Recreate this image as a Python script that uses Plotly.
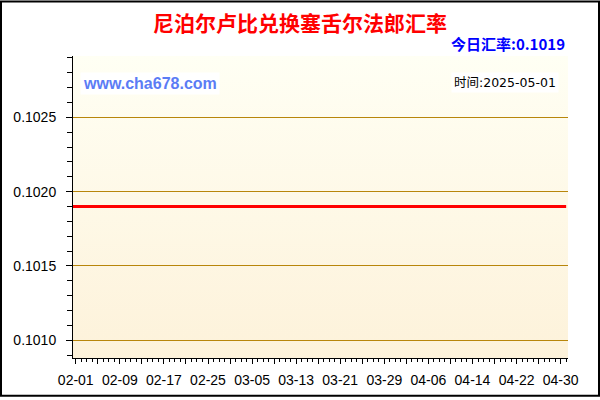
import base64
import pandas as pd
import plotly.graph_objects as go

# daily rate, NPR -> SCR
dates = pd.date_range("2025-01-31", "2025-05-01", freq="D")
rates = [
    0.1019,
    0.1019, 0.1019, 0.1019, 0.1019, 0.1019, 0.1019, 0.1019, 0.1019, 0.1019, 0.1019,
    0.1019, 0.1019, 0.1019, 0.1019, 0.1019, 0.1019, 0.1019, 0.1019, 0.1019, 0.1019,
    0.1019, 0.1019, 0.1019, 0.1019, 0.1019, 0.1019, 0.1019, 0.1019, 0.1019, 0.1019,
    0.1019, 0.1019, 0.1019, 0.1019, 0.1019, 0.1019, 0.1019, 0.1019, 0.1019, 0.1019,
    0.1019, 0.1019, 0.1019, 0.1019, 0.1019, 0.1019, 0.1019, 0.1019, 0.1019, 0.1019,
    0.1019, 0.1019, 0.1019, 0.1019, 0.1019, 0.1019, 0.1019, 0.1019, 0.1019, 0.1019,
    0.1019, 0.1019, 0.1019, 0.1019, 0.1019, 0.1019, 0.1019, 0.1019, 0.1019, 0.1019,
    0.1019, 0.1019, 0.1019, 0.1019, 0.1019, 0.1019, 0.1019, 0.1019, 0.1019, 0.1019,
    0.1019, 0.1019, 0.1019, 0.1019, 0.1019, 0.1019, 0.1019, 0.1019, 0.1019, 0.1019,
]
title_text = "尼泊尔卢比兑换塞舌尔法郎汇率"
today_text = "今日汇率:0.1019"
site_text = "www.cha678.com"
time_text = "时间:2025-05-01"

x_range = ["2025-01-31 12:00", "2025-05-01 08:00"]
y_range = [0.10088, 0.102913]

# every 4th day from 02-01 gets a tall tick, every 8th a label
tick_dates = pd.date_range("2025-02-01", "2025-04-30", freq="4D")
tick_text = [d.strftime("%m-%d") if i % 2 == 0 else "" for i, d in enumerate(tick_dates)]

# plot area in pixels (600x400 page)
L, R, T, B = 73, 568, 56, 361
W, H = R - L, B - T
def px(x):
    return (x - L) / W
def py(y):
    return (B - y) / H

font_latin = "Liberation Sans, Noto Sans CJK SC"
font_cjk = "Noto Sans CJK SC, Liberation Sans"

# cream vertical gradient behind the plot, as a small svg
bg_svg = (
    '<svg xmlns="http://www.w3.org/2000/svg" width="10" height="100" preserveAspectRatio="none">'
    '<defs><linearGradient id="g" x1="0" y1="0" x2="0" y2="1">'
    '<stop offset="0" stop-color="#fffff4"/><stop offset="1" stop-color="#fdf2da"/>'
    '</linearGradient></defs><rect width="10" height="100" fill="url(#g)"/></svg>'
)
bg_uri = "data:image/svg+xml;base64," + base64.b64encode(bg_svg.encode()).decode()

fig = go.Figure()

fig.add_trace(go.Scatter(
    x=dates, y=rates, mode="lines", line=dict(color="#ff0000", width=3),
    showlegend=False,
))

axis_font = dict(family="Liberation Sans", size=14, color="#000000")

fig.update_layout(
    autosize=True,
    margin=dict(l=L, r=600 - R, t=T, b=400 - B, pad=0),
    paper_bgcolor="white", plot_bgcolor="rgba(0,0,0,0)",
    showlegend=False,
    images=[dict(source=bg_uri, xref="paper", yref="paper", x=0, y=1,
                 sizex=1, sizey=1, sizing="stretch", layer="below",
                 xanchor="left", yanchor="top")],
    xaxis=dict(
        type="date", range=x_range, showgrid=False, zeroline=False,
        showline=True, linecolor="black", linewidth=1,
        tickvals=tick_dates, ticktext=tick_text,
        ticks="outside", ticklen=5, tickcolor="black", tickwidth=1,
        minor=dict(dtick=86400000, ticks="outside", ticklen=3, tickcolor="black"),
        tickfont=axis_font, ticklabelstandoff=4,
    ),
    xaxis2=dict(
        type="date", range=x_range, overlaying="x", side="top", anchor="y",
        showgrid=False, zeroline=False, showline=True, linecolor="black",
        showticklabels=False, tickvals=tick_dates,
        ticks="inside", ticklen=4, tickcolor="black",
        minor=dict(dtick=86400000, ticks="inside", ticklen=3, tickcolor="black"),
    ),
    yaxis=dict(
        range=y_range, tick0=0.1010, dtick=0.0005, tickformat=".4f",
        showgrid=True, gridcolor="#b8860b", gridwidth=1, zeroline=False,
        showline=True, linecolor="black", linewidth=1,
        ticks="outside", ticklen=6, tickcolor="black",
        minor=dict(tick0=0.1010, dtick=0.0001, ticks="outside", ticklen=5,
                   tickcolor="black", showgrid=False),
        tickfont=axis_font, ticklabelstandoff=7,
    ),
    yaxis2=dict(
        range=y_range, overlaying="y", side="right", anchor="x",
        showgrid=False, zeroline=False, showline=True, linecolor="black",
        showticklabels=False, tick0=0.1010, dtick=0.0001,
        ticks="inside", ticklen=4, tickcolor="black",
    ),
    yaxis3=dict(
        range=y_range, overlaying="y", side="left", anchor="x",
        showgrid=False, zeroline=False, showline=False,
        showticklabels=False, tick0=0.1010, dtick=0.0005,
        ticks="inside", ticklen=5, tickcolor="black",
    ),
)

fig.add_annotation(
    x=px(300), y=py(22), xref="paper", yref="paper", text=title_text,
    showarrow=False, xanchor="center", yanchor="middle",
    font=dict(family=font_cjk, size=21, color="#ff0000", weight="bold"),
)
fig.add_annotation(
    x=px(567), y=py(43), xref="paper", yref="paper", text=today_text,
    showarrow=False, xanchor="right", yanchor="middle",
    font=dict(family=font_cjk, size=15, color="#0000ff", weight="bold"),
)
fig.add_annotation(
    x=px(80), y=py(84), xref="paper", yref="paper", text=site_text,
    showarrow=False, xanchor="left", yanchor="middle", bgcolor="white",
    borderpad=2,
    font=dict(family=font_latin, size=16, color="#5b7cf5", weight="bold"),
)
fig.add_annotation(
    x=px(559), y=py(83), xref="paper", yref="paper", text=time_text,
    showarrow=False, xanchor="right", yanchor="middle", bgcolor="white",
    borderpad=2,
    font=dict(family="DejaVu Sans, Noto Sans CJK SC", size=12.5, color="#000000"),
)

# outer frame around the whole image
fig.add_shape(
    type="rect", xref="paper", yref="paper",
    x0=px(1), x1=px(599), y0=py(399), y1=py(1),
    line=dict(color="black", width=2), layer="above",
)

# fill the window exactly: no page margin, no scrollbars
fig.write_html(
    "out.html", config={"displayModeBar": False, "responsive": True},
    default_width="100vw", default_height="100vh",
    post_script=("document.body.style.margin='0';"
                 "document.body.style.overflow='hidden';"
                 "Plotly.Plots.resize(document.getElementById('{plot_id}'));"),
)
